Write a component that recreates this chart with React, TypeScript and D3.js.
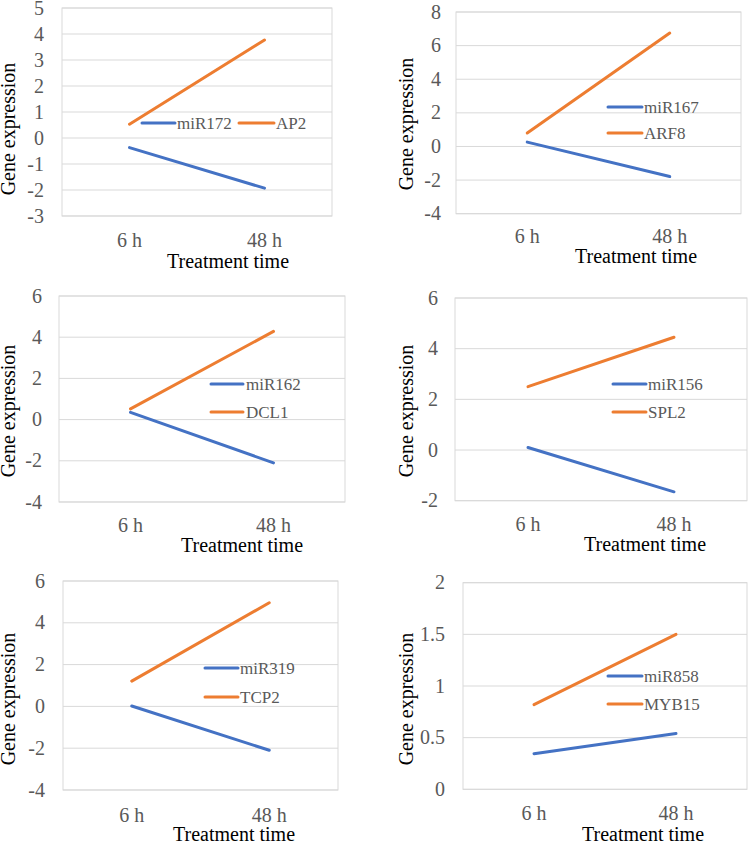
import React from "react";
import * as d3 from "d3";

// ---------- data ----------
const timePoints = ["6 h", "48 h"];
const miRNAs = ["miR172", "miR167", "miR162", "miR156", "miR319", "miR858"];
const targets = ["AP2", "ARF8", "DCL1", "SPL2", "TCP2", "MYB15"];
const miRNAValues = [
  [-0.37, -1.93],
  [0.26, -1.79],
  [0.35, -2.1],
  [0.1, -1.65],
  [0.02, -2.1],
  [0.345, 0.54],
];
const targetValues = [
  [0.53, 3.77],
  [0.8, 6.75],
  [0.52, 4.28],
  [2.5, 4.45],
  [1.21, 4.96],
  [0.82, 1.5],
];
const yTicks = [
  [-3, -2, -1, 0, 1, 2, 3, 4, 5],
  [-4, -2, 0, 2, 4, 6, 8],
  [-4, -2, 0, 2, 4, 6],
  [-2, 0, 2, 4, 6],
  [-4, -2, 0, 2, 4, 6],
  [0, 0.5, 1, 1.5, 2],
];
const yAxisTitle = "Gene expression";
const xAxisTitle = "Treatment time";

// ---------- layout (page pixels) ----------
type Layout = {
  left: number; right: number; top: number; bottom: number;
  tickX: number; yTitleX: number; yTitleY: number;
  xLabelY: number; xTitleX: number; xTitleY: number;
  legend: { x1: number; x2: number; tx: number; y: number }[];
};
const layouts: Layout[] = [
  { left: 62, right: 332, top: 8, bottom: 216, tickX: 44, yTitleX: 15, yTitleY: 129, xLabelY: 247, xTitleX: 228, xTitleY: 268,
    legend: [{ x1: 142, x2: 175, tx: 177, y: 123 }, { x1: 239, x2: 274, tx: 276, y: 123 }] },
  { left: 456, right: 741, top: 12, bottom: 213.7, tickX: 441, yTitleX: 413, yTitleY: 124, xLabelY: 243, xTitleX: 636, xTitleY: 263,
    legend: [{ x1: 608, x2: 642, tx: 644, y: 107 }, { x1: 608, x2: 642, tx: 644, y: 133 }] },
  { left: 59, right: 345, top: 296, bottom: 502, tickX: 42, yTitleX: 15, yTitleY: 411, xLabelY: 532, xTitleX: 242, xTitleY: 552,
    legend: [{ x1: 211, x2: 243, tx: 246, y: 384 }, { x1: 211, x2: 243, tx: 246, y: 412 }] },
  { left: 455, right: 747, top: 298, bottom: 500.7, tickX: 438, yTitleX: 413, yTitleY: 411, xLabelY: 531, xTitleX: 645, xTitleY: 551,
    legend: [{ x1: 613, x2: 646, tx: 648, y: 384 }, { x1: 613, x2: 646, tx: 648, y: 412 }] },
  { left: 63, right: 338, top: 581, bottom: 790, tickX: 45, yTitleX: 15, yTitleY: 699, xLabelY: 822, xTitleX: 234, xTitleY: 841,
    legend: [{ x1: 205, x2: 238, tx: 240, y: 668 }, { x1: 205, x2: 238, tx: 240, y: 697 }] },
  { left: 463, right: 747, top: 582.7, bottom: 789.3, tickX: 445, yTitleX: 413, yTitleY: 699, xLabelY: 820, xTitleX: 643, xTitleY: 841,
    legend: [{ x1: 608, x2: 642, tx: 644, y: 676 }, { x1: 608, x2: 642, tx: 644, y: 704 }] },
];

const BLUE = "#4472C4";
const ORANGE = "#ED7D31";
const GRID = "#D9D9D9";
const TICK = "#595959";
const FONT = "Liberation Serif";

function Panel({ i }: { i: number }) {
  const L = layouts[i];
  const ticks = yTicks[i];
  const x = d3.scaleBand<string>().domain(timePoints).range([L.left, L.right]).padding(0);
  const y = d3.scaleLinear().domain([ticks[0], ticks[ticks.length - 1]]).range([L.bottom, L.top]);
  const cx = (c: string) => (x(c) as number) + x.bandwidth() / 2;
  const line = d3
    .line<number>()
    .x((_, k) => cx(timePoints[k]))
    .y((d) => y(d));
  const series = [
    { name: miRNAs[i], values: miRNAValues[i], color: BLUE },
    { name: targets[i], values: targetValues[i], color: ORANGE },
  ];
  return (
    <g fontFamily={FONT}>
      {ticks.map((t) => (
        <line key={"g" + t} x1={L.left} x2={L.right} y1={y(t)} y2={y(t)} stroke={GRID} strokeWidth={1} />
      ))}
      <rect x={L.left} y={L.top} width={L.right - L.left} height={L.bottom - L.top} fill="none" stroke={GRID} strokeWidth={1} />
      {ticks.map((t) => (
        <text key={"t" + t} x={L.tickX} y={y(t)} dy="0.33em" textAnchor="end" fill={TICK} fontSize={20} fontFamily={FONT}>
          {String(t)}
        </text>
      ))}
      {timePoints.map((c) => (
        <text key={c} x={cx(c)} y={L.xLabelY} textAnchor="middle" fill={TICK} fontSize={20} fontFamily={FONT}>
          {c}
        </text>
      ))}
      {series.map((s) => (
        <path key={s.name} d={line(s.values) || ""} fill="none" stroke={s.color} strokeWidth={3} strokeLinecap="round" />
      ))}
      {series.map((s, k) => (
        <g key={"l" + s.name}>
          <line x1={L.legend[k].x1} x2={L.legend[k].x2} y1={L.legend[k].y} y2={L.legend[k].y} stroke={s.color} strokeWidth={3} strokeLinecap="round" />
          <text x={L.legend[k].tx} y={L.legend[k].y} dy="0.33em" fill={TICK} fontSize={17} fontFamily={FONT}>
            {s.name}
          </text>
        </g>
      ))}
      <text x={L.xTitleX} y={L.xTitleY} textAnchor="middle" fill="#000" fontSize={20} fontFamily={FONT}>
        {xAxisTitle}
      </text>
      <text
        transform={`translate(${L.yTitleX},${L.yTitleY}) rotate(-90)`}
        textAnchor="middle"
        fill="#000"
        fontSize={20}
        fontFamily={FONT}
      >
        {yAxisTitle}
      </text>
    </g>
  );
}

export default function App() {
  return (
    <svg
      width={751}
      height={842}
      viewBox="0 0 751 842"
      style={{ position: "absolute", left: 0, top: 0, background: "#fff" }}
    >
      <rect x={0} y={0} width={751} height={842} fill="#fff" />
      {layouts.map((_, i) => (
        <Panel key={i} i={i} />
      ))}
    </svg>
  );
}
